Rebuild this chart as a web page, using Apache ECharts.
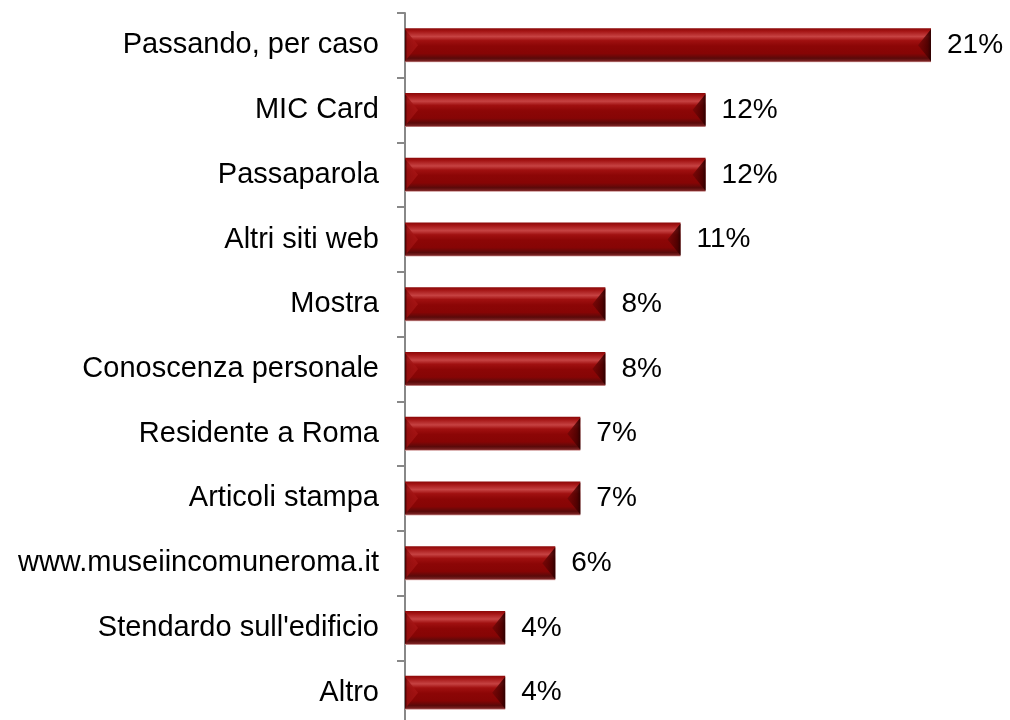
<!DOCTYPE html>
<html>
<head>
<meta charset="utf-8">
<script src="https://cdn.jsdelivr.net/npm/echarts@6/dist/echarts.min.js"></script>
<style>
  html, body { margin: 0; padding: 0; background: #fff; }
  #chart { width: 1010px; height: 720px; }
</style>
</head>
<body>
<div id="chart"></div>
<script>
// How visitors learned about the museum (share of respondents, %)
const categories = [
  'Passando, per caso',
  'MIC Card',
  'Passaparola',
  'Altri siti web',
  'Mostra',
  'Conoscenza personale',
  'Residente a Roma',
  'Articoli stampa',
  'www.museiincomuneroma.it',
  "Stendardo sull'edificio",
  'Altro'
];
const shares = [21, 12, 12, 11, 8, 8, 7, 7, 6, 4, 4];

const BAR_H = 34;
const BEVEL = 13;
const FONT = 'Liberation Sans, Arial, sans-serif';

const chart = echarts.init(document.getElementById('chart'), null, { renderer: 'canvas' });

// Vertical shading of the bar body: bright upper facet, dark lower facet, pale rim below
const barFill = new echarts.graphic.LinearGradient(0, 0, 0, 1, [
  { offset: 0.00, color: '#8a0808' },
  { offset: 0.08, color: '#a41414' },
  { offset: 0.24, color: '#c64242' },
  { offset: 0.36, color: '#a01010' },
  { offset: 0.52, color: '#8c0606' },
  { offset: 0.74, color: '#860505' },
  { offset: 0.88, color: '#5a0a0a' },
  { offset: 0.96, color: '#7a2222' },
  { offset: 1.00, color: '#e2b4b4' }
]);

// End facets of each bevelled bar
function renderBevel(params, api) {
  const v = api.value(0);
  const idx = api.value(1);
  const p0 = api.coord([0, idx]);
  const p1 = api.coord([v, idx]);
  const x0 = p0[0], x1 = p1[0], yc = p0[1];
  const y0 = yc - BAR_H / 2, y1 = yc + BAR_H / 2;
  return {
    type: 'group',
    silent: true,
    children: [
      {
        type: 'polygon',
        shape: { points: [[x0, y0 + 1], [x0 + BEVEL, yc], [x0, y1 - 1]] },
        style: {
          fill: new echarts.graphic.LinearGradient(0, 0, 1, 0, [
            { offset: 0, color: 'rgba(55,0,0,0.95)' },
            { offset: 0.18, color: 'rgba(150,15,15,0.85)' },
            { offset: 1, color: 'rgba(175,25,25,0.6)' }
          ])
        }
      },
      {
        type: 'polygon',
        shape: { points: [[x1, y0 + 1], [x1 - BEVEL, yc], [x1, y1 - 1]] },
        style: {
          fill: new echarts.graphic.LinearGradient(0, 0, 1, 0, [
            { offset: 0, color: 'rgba(105,5,5,0.6)' },
            { offset: 0.75, color: 'rgba(70,0,0,0.85)' },
            { offset: 1, color: 'rgba(40,0,0,0.95)' }
          ])
        }
      }
    ]
  };
}

chart.setOption({
  animation: false,
  grid: {
    left: 405,
    right: 79,
    top: 13,
    height: 712,
    containLabel: false,
    outerBoundsMode: 'none'
  },
  xAxis: {
    type: 'value',
    min: 0,
    max: 21,
    show: false
  },
  yAxis: {
    type: 'category',
    data: categories,
    inverse: true,
    axisLine: { show: true, lineStyle: { color: '#888888', width: 2 } },
    axisTick: { show: true, length: 8, lineStyle: { color: '#888888', width: 2 } },
    axisLabel: {
      margin: 26,
      color: '#000000',
      fontFamily: FONT,
      fontSize: 29
    },
    splitLine: { show: false }
  },
  series: [
    {
      type: 'bar',
      data: shares,
      barWidth: BAR_H,
      itemStyle: { color: barFill },
      label: {
        show: true,
        position: 'right',
        distance: 16,
        formatter: '{c}%',
        color: '#000000',
        fontFamily: FONT,
        fontSize: 28
      },
      z: 2
    },
    {
      type: 'custom',
      data: shares.map((v, i) => [v, i]),
      encode: { x: 0, y: 1 },
      renderItem: renderBevel,
      z: 3
    }
  ]
});
</script>
</body>
</html>
